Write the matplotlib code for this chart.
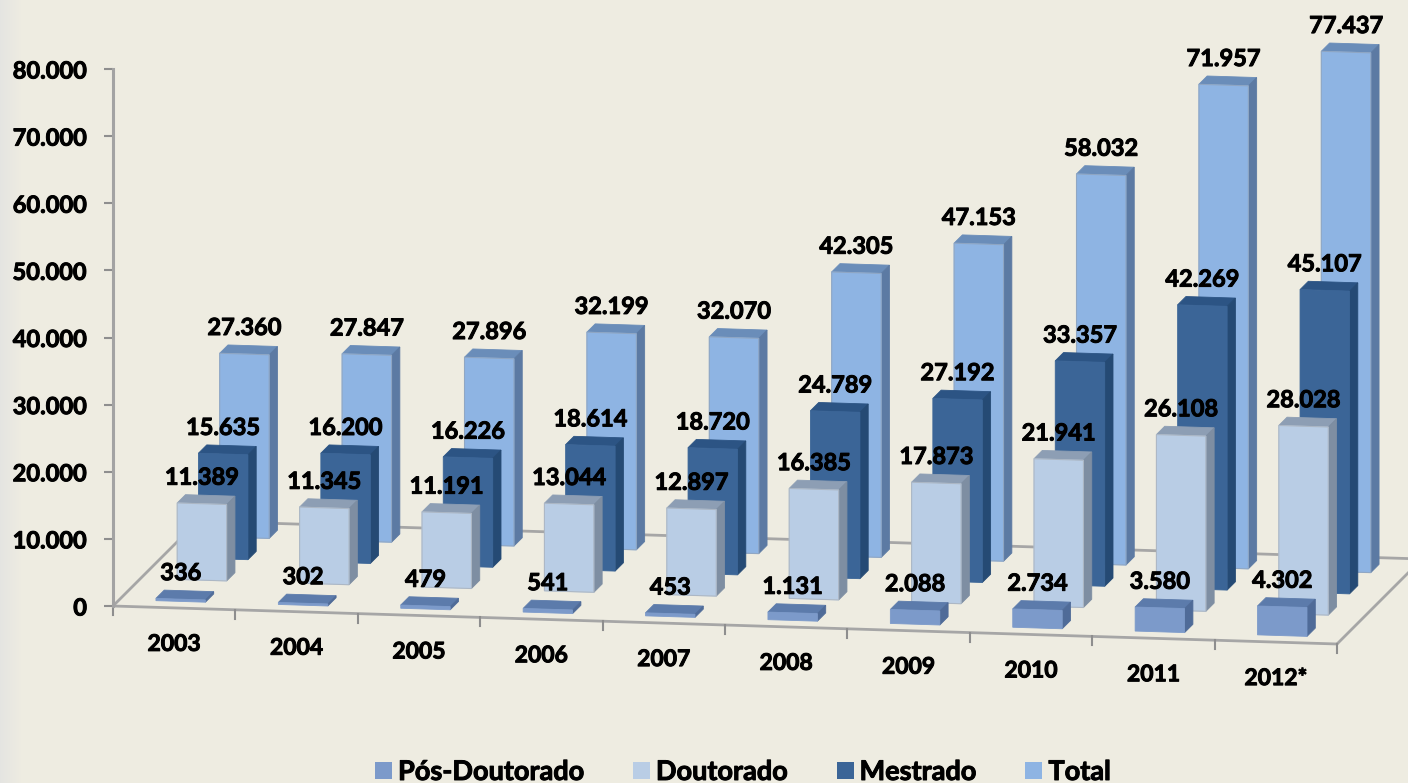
import matplotlib
matplotlib.use("Agg")
import matplotlib.pyplot as plt
import matplotlib.patheffects as pe
import numpy as np
from matplotlib.patches import Polygon, Patch
from matplotlib.text import Text

years = ["2003", "2004", "2005", "2006", "2007", "2008", "2009", "2010", "2011", "2012*"]
pos_doutorado = [336, 302, 479, 541, 453, 1131, 2088, 2734, 3580, 4302]
doutorado = [11389, 11345, 11191, 13044, 12897, 16385, 17873, 21941, 26108, 28028]
mestrado = [15635, 16200, 16226, 18614, 18720, 24789, 27192, 33357, 42269, 45107]
total = [27360, 27847, 27896, 32199, 32070, 42305, 47153, 58032, 71957, 77437]
series_names = ["Pós-Doutorado", "Doutorado", "Mestrado", "Total"]
y_ticks = [0, 10000, 20000, 30000, 40000, 50000, 60000, 70000, 80000]

BG = "#EEECE1"
# colours per series: front, side, top, rim
colors = [
    ("#7C9ACA", "#4F6B98", "#5C7BAB", None),
    ("#B9CDE5", "#7E8EA2", "#8D9EB4", "#A9B2BD"),
    ("#3B6597", "#254A74", "#2C5484", None),
    ("#8EB4E3", "#5C7AA3", "#6A8DB9", "#8FA3BC"),
]
series = [pos_doutorado, doutorado, mestrado, total]

W, H = 1408, 783
DPI = 100
X0, Y0 = 113.0, 606.0      # pixel of category 0 / value 0
PX_U, PY_U = 122.4, 3.8    # pixels per category along the floor
PX_Z = 537.0 / 80000       # pixels per unit of value
DEPTH = 85.0               # floor depth in pixels (45 degrees)
N = len(years)
S = len(series)
BAR_W = 0.404
BAR_D = 8.3
PX = 72.0 / DPI            # points per pixel

plt.rcParams["font.family"] = ["Lato", "DejaVu Sans"]
plt.rcParams["font.weight"] = "bold"

fig = plt.figure(figsize=(W / DPI, H / DPI), dpi=DPI, facecolor=BG)
ax = fig.add_axes([0, 0, 1, 1])
ax.patch.set_visible(False)
ax.set_xlim(-X0 / PX_U, (W - X0) / PX_U)
ax.set_ylim(-(H - Y0) / PX_Z, Y0 / PX_Z)

# faint grey fade along the left edge of the slide
fade_w = 22
start, end = np.array([0.898, 0.898, 0.886]), np.array(matplotlib.colors.to_rgb(BG))
fade = np.linspace(start, end, fade_w)[None, :, :].repeat(H, axis=0)
fig.figimage(fade, xo=0, yo=0, zorder=-1)


def project(u, v, z):
    """Oblique projection of (category, depth px, value) to axes data coords."""
    return (u + v / PX_U, z + (v - PY_U * u) / PX_Z)


# value axis: real spine + ticks
for name in ("top", "right", "bottom"):
    ax.spines[name].set_visible(False)
ax.spines["left"].set_position(("data", 0))
ax.spines["left"].set_bounds(0, 80000)
ax.spines["left"].set_color("#A3A3A3")
ax.spines["left"].set_linewidth(2.2)
ax.set_xticks([])
ax.set_yticks(y_ticks)
ax.set_yticklabels([f"{t:,}".replace(",", ".") for t in y_ticks], fontsize=17, fontweight="bold", color="black")
ax.tick_params(axis="y", length=9 * PX, width=1.5, color="#8E8E8E", pad=17 * PX)

# floor outline
GRID = dict(color="#A6A6A6", lw=2.0, zorder=1, solid_capstyle="round")
for a, b in [((0, 0), (N, 0)), ((0, 0), (0, DEPTH)), ((N, 0), (N, DEPTH)), ((0, DEPTH), (N, DEPTH))]:
    p, q = project(a[0], a[1], 0), project(b[0], b[1], 0)
    ax.plot([p[0], q[0]], [p[1], q[1]], **GRID)
for i in range(N + 1):
    p = project(i, 0, 0)
    ax.plot([p[0], p[0]], [p[1], p[1] - 9 / PX_Z], color="#8E8E8E", lw=1.5, zorder=1)

# bars, back to front
step = DEPTH / S
for s in range(S - 1, -1, -1):
    front, side, top, rim = colors[s]
    for i, val in enumerate(series[s]):
        u0, u1 = i + 0.5 - BAR_W / 2, i + 0.5 + BAR_W / 2
        v0, v1 = (s + 0.5) * step - BAR_D / 2, (s + 0.5) * step + BAR_D / 2
        faces = [
            (top, [(u0, v0, val), (u1, v0, val), (u1, v1, val), (u0, v1, val)]),
            (side, [(u1, v0, 0), (u1, v1, 0), (u1, v1, val), (u1, v0, val)]),
            (front, [(u0, v0, 0), (u1, v0, 0), (u1, v0, val), (u0, v0, val)]),
        ]
        for col, pts in faces:
            ax.add_patch(Polygon([project(*p) for p in pts], closed=True, facecolor=col,
                                 edgecolor=col, lw=0.6, zorder=3 + (S - s)))
        if rim:
            ax.add_patch(Polygon([project(*p) for p in faces[2][1]], closed=True, fill=False,
                                 edgecolor=rim, lw=0.8, alpha=0.8, zorder=3 + (S - s)))

# value labels above everything
for s in range(S):
    for i, val in enumerate(series[s]):
        xy = project(i + 0.5, (s + 0.5) * step - BAR_D / 2, val)
        ax.annotate(f"{val:,}".replace(",", "."), xy=xy, xytext=(0, 26.5 * PX),
                    textcoords="offset points", ha="center", va="center",
                    fontsize=17, fontweight="bold", color="black", zorder=20)

# category labels
for i, name in enumerate(years):
    xy = project(i + 0.5, 0, 0)
    ax.annotate(name, xy=xy, xytext=(0, -36.5 * PX), textcoords="offset points",
                ha="center", va="center", fontsize=16.5, fontweight="bold", color="black", zorder=20)

# legend
handles = [Patch(facecolor=colors[k][0], edgecolor="none", label=series_names[k]) for k in range(S)]
fs = 19.5
fpx = fs / PX
leg = ax.legend(handles=handles, ncol=4, loc="center", bbox_to_anchor=(743 / W, 1 - 772 / H),
                frameon=False, fontsize=fs, handlelength=17 / fpx, handleheight=17 / fpx,
                handletextpad=6 / fpx, columnspacing=49 / fpx, borderpad=0, labelspacing=0)

# heavier glyphs, as in the original
for t in fig.findobj(Text):
    if t.get_text():
        t.set_path_effects([pe.withStroke(linewidth=0.7, foreground="black")])

fig.savefig("out.png", dpi=DPI, facecolor=BG)
